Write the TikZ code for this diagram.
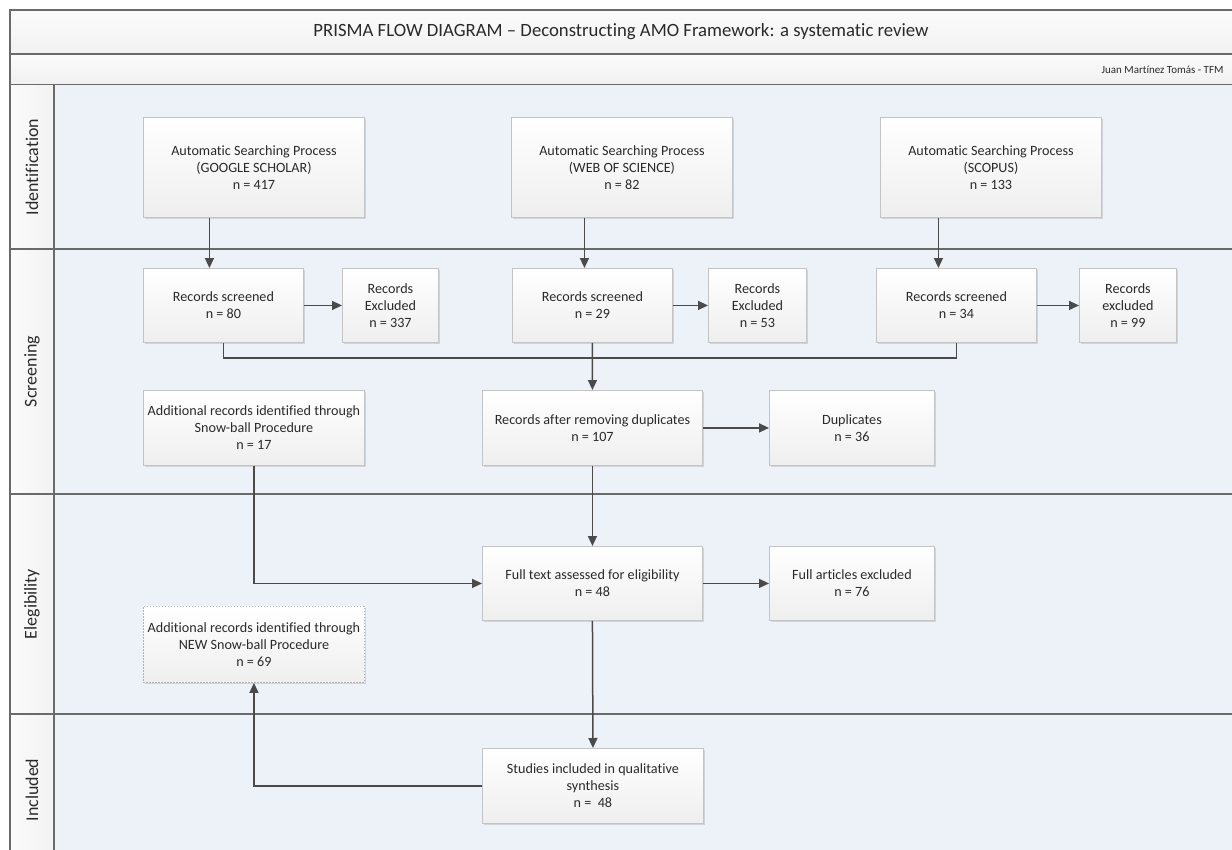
\documentclass[tikz,border=0pt]{standalone}
\usepackage{fontspec}
\setmainfont{Carlito}[Ligatures=CommonOff]
\usetikzlibrary{arrows.meta,shadows}
\definecolor{lanebg}{HTML}{EDF2F9}
\definecolor{bordc}{HTML}{6A6A6A}
\definecolor{boxbd}{HTML}{C4C4C4}
\definecolor{linec}{HTML}{4A4A4A}
\definecolor{textc}{HTML}{2A2A2A}
\tikzset{
  band/.style={draw=bordc, line width=1.2bp, top color=gray!3, bottom color=gray!11},
  lanehead/.style={draw=bordc, line width=1.2bp, left color=gray!3, right color=gray!10},
  lanebody/.style={draw=bordc, line width=1.2bp, fill=lanebg},
  lanelabel/.style={rotate=90, font=\fontsize{18}{20}\selectfont, text=textc},
  box/.style={draw=boxbd, line width=0.9bp, top color=white, bottom color=gray!13,
    align=center, inner sep=0pt, anchor=north west, text=textc,
    font=\fontsize{14.2}{17}\selectfont,
    drop shadow={shadow xshift=1.2bp, shadow yshift=-1.2bp, opacity=0.25, fill=gray}},
  dotbox/.style={box, dash pattern=on 1.5bp off 1.5bp, draw=gray!60},
  conn/.style={draw=linec, line width=1.5bp},
  arr/.style={conn, -{Triangle[length=10bp,width=9bp]}},
}
\begin{document}
\begin{tikzpicture}[x=1bp,y=-1bp]
\useasboundingbox (0,0) rectangle (1232,850);
\clip (0,0) rectangle (1232,850);
\fill[white] (0,0) rectangle (1232,850);
% bands
\path[band] (10,10) rectangle (1260,54);
\path[band] (10,54) rectangle (1260,84.5);
% lanes
\path[lanebody] (54,84.5) rectangle (1260,249);
\path[lanebody] (54,249) rectangle (1260,494);
\path[lanebody] (54,494) rectangle (1260,714);
\path[lanebody] (54,714) rectangle (1260,880);
\path[lanehead] (10,84.5) rectangle (54,249);
\path[lanehead] (10,249) rectangle (54,494);
\path[lanehead] (10,494) rectangle (54,714);
\path[lanehead] (10,714) rectangle (54,880);
\node[lanelabel] (l1) at (32,167) {Identification};
\node[lanelabel] (l2) at (32,371.5) {Screening};
\node[lanelabel] (l3) at (32,604) {Elegibility};
\node[lanelabel] (l4) at (32,790) {Included};
% title
\node[font=\fontsize{18.8}{21}\selectfont, text=textc] (title) at (621,31.5)
  {PRISMA FLOW DIAGRAM – Deconstructing AMO Framework: a systematic review};
\node[anchor=east, font=\fontsize{11}{12}\selectfont, text=textc] (author) at (1227,69.5)
  {Juan Martínez Tomás - TFM};
% boxes
\node[box, minimum width=221bp, minimum height=100bp] (gs) at (143,117)
  {Automatic Searching Process\\(GOOGLE SCHOLAR)\\n = 417};
\node[box, minimum width=221bp, minimum height=100bp] (wos) at (511,117)
  {Automatic Searching Process\\(WEB OF SCIENCE)\\n = 82};
\node[box, minimum width=221bp, minimum height=100bp] (sco) at (880,117)
  {Automatic Searching Process\\(SCOPUS)\\n = 133};
\node[box, minimum width=160bp, minimum height=74bp] (rs1) at (143,268)
  {Records screened\\n = 80};
\node[box, minimum width=96bp, minimum height=74bp] (re1) at (342,268)
  {Records\\Excluded\\n = 337};
\node[box, minimum width=160bp, minimum height=74bp] (rs2) at (512,268)
  {Records screened\\n = 29};
\node[box, minimum width=98bp, minimum height=74bp] (re2) at (708,268)
  {Records\\Excluded\\n = 53};
\node[box, minimum width=160bp, minimum height=74bp] (rs3) at (876,268)
  {Records screened\\n = 34};
\node[box, minimum width=97bp, minimum height=74bp] (re3) at (1079,268)
  {Records\\excluded\\n = 99};
\node[box, minimum width=221bp, minimum height=75bp] (sb) at (143,390)
  {Additional records identified through\\Snow-ball Procedure\\n = 17};
\node[box, minimum width=220bp, minimum height=75bp] (rad) at (482,390)
  {Records after removing duplicates\\n = 107};
\node[box, minimum width=165bp, minimum height=75bp] (dup) at (769,390)
  {Duplicates\\n = 36};
\node[box, minimum width=220bp, minimum height=74bp] (ft) at (482,546)
  {Full text assessed for eligibility\\n = 48};
\node[box, minimum width=165bp, minimum height=74bp] (fae) at (769,546)
  {Full articles excluded\\n = 76};
\node[dotbox, minimum width=221bp, minimum height=76bp] (new) at (143,606)
  {Additional records identified through\\NEW Snow-ball Procedure\\n = 69};
\node[box, minimum width=221bp, minimum height=75bp] (st) at (482,748)
  {Studies included in qualitative\\synthesis\\n =\ \ 48};
% connectors
\draw[arr] ([xshift=-44.5bp]gs.south) -- ([xshift=-44.5bp]gs.south |- rs1.north);
\draw[arr] ([xshift=-37.5bp]wos.south) -- ([xshift=-37.5bp]wos.south |- rs2.north);
\draw[arr] ([xshift=-52.5bp]sco.south) -- ([xshift=-52.5bp]sco.south |- rs3.north);
\draw[arr] (rs1.east) -- (re1.west);
\draw[arr] (rs2.east) -- (re2.west);
\draw[arr] (rs3.east) -- (re3.west);
\coordinate (m) at (592,358);
\draw[conn] (rs1.south) |- (m) -| (rs3.south);
\draw[arr] (rs2.south) -- (rad.north);
\draw[arr] (rad.east) -- (dup.west);
\draw[arr] (sb.south) |- (ft.west);
\draw[arr] (rad.south) -- (ft.north);
\draw[arr] (ft.east) -- (fae.west);
\draw[arr] (ft.south) -- (st.north);
\draw[arr] (st.west) -| (new.south);
\end{tikzpicture}
\end{document}
